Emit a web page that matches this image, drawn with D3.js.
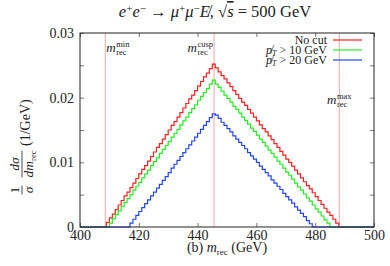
<!DOCTYPE html>
<html>
<head>
<meta charset="utf-8">
<script src="https://cdn.jsdelivr.net/npm/d3@7"></script>
<style>
  body { margin: 0; background: #fff; }
  svg { display: block; font-family: "Liberation Serif", "DejaVu Serif", serif; }
</style>
</head>
<body>
<svg id="chart" width="390" height="266"></svg>
<script>
// 1 GeV bins, first non-empty bin given by *Start
const xDomain = [400, 500];
const yTicks = [0, 0.005, 0.01, 0.015, 0.02, 0.025, 0.03];
const xTicks = [400, 420, 440, 460, 480, 500];

const noCutStart = 409;
const noCut = [
  0.0007, 0.0014, 0.0020, 0.0027, 0.0034, 0.0041, 0.0048, 0.0054, 0.0061, 0.0068,
  0.0075, 0.0082, 0.0089, 0.0095, 0.0102, 0.0109, 0.0116, 0.0123, 0.0129, 0.0136,
  0.0143, 0.0150, 0.0157, 0.0163, 0.0170, 0.0177, 0.0184, 0.0191, 0.0198, 0.0204,
  0.0211, 0.0218, 0.0225, 0.0232, 0.0238, 0.0245, 0.0252,
  0.0246, 0.0240, 0.0234, 0.0229, 0.0223, 0.0217, 0.0211, 0.0205, 0.0199, 0.0193,
  0.0188, 0.0182, 0.0176, 0.0170, 0.0164, 0.0158, 0.0152, 0.0147, 0.0141, 0.0135,
  0.0129, 0.0123, 0.0117, 0.0111, 0.0105, 0.0100, 0.0094, 0.0088, 0.0082, 0.0076,
  0.0070, 0.0064, 0.0059, 0.0053, 0.0047, 0.0041, 0.0035, 0.0029, 0.0023, 0.0018,
  0.0012, 0.0006
];

const pt10Start = 410;
const pt10 = [
  0.0006, 0.0013, 0.0019, 0.0025, 0.0032, 0.0038, 0.0044, 0.0050, 0.0057, 0.0063,
  0.0069, 0.0076, 0.0082, 0.0088, 0.0095, 0.0101, 0.0107, 0.0114, 0.0120, 0.0126,
  0.0132, 0.0139, 0.0145, 0.0151, 0.0158, 0.0164, 0.0170, 0.0177, 0.0183, 0.0189,
  0.0196, 0.0202, 0.0208, 0.0214, 0.0221, 0.0227,
  0.0221, 0.0216, 0.0210, 0.0204, 0.0199, 0.0193, 0.0187, 0.0182, 0.0176, 0.0170,
  0.0165, 0.0159, 0.0153, 0.0148, 0.0142, 0.0136, 0.0131, 0.0125, 0.0119, 0.0114,
  0.0108, 0.0102, 0.0097, 0.0091, 0.0085, 0.0080, 0.0074, 0.0068, 0.0062, 0.0057,
  0.0051, 0.0045, 0.0040, 0.0034, 0.0028, 0.0023, 0.0017, 0.0011, 0.0006
];

const pt20Start = 417;
const pt20 = [
  0.0006, 0.0012, 0.0018, 0.0024, 0.0030, 0.0036, 0.0042, 0.0048, 0.0054, 0.0060,
  0.0066, 0.0072, 0.0078, 0.0084, 0.0091, 0.0097, 0.0103, 0.0109, 0.0115, 0.0121,
  0.0127, 0.0133, 0.0139, 0.0145, 0.0151, 0.0157, 0.0163, 0.0169, 0.0175,
  0.0173, 0.0168, 0.0162, 0.0157, 0.0152, 0.0147, 0.0141, 0.0136, 0.0131, 0.0126,
  0.0121, 0.0115, 0.0110, 0.0105, 0.0100, 0.0094, 0.0089, 0.0084, 0.0079, 0.0073,
  0.0068, 0.0063, 0.0058, 0.0052, 0.0047, 0.0042, 0.0037, 0.0031, 0.0026, 0.0021,
  0.0016, 0.0010, 0.0005
];

const markerNames = ["min", "cusp", "max"];
const markerValues = [408.6, 445.6, 488.2];

const seriesNames = ["No cut", "10", "20"];
const seriesColors = ["#ff2020", "#22ee22", "#2244ff"];

const serif = "Liberation Serif";
const svg = d3.select("#chart");
const margin = { top: 33, right: 16, bottom: 39, left: 80 };
const width = 390 - margin.left - margin.right;
const height = 266 - margin.top - margin.bottom;

const x = d3.scaleLinear().domain(xDomain).range([margin.left, margin.left + width]);
const y = d3.scaleLinear().domain([0, 0.03]).range([margin.top + height, margin.top]);

// full histograms over 400..500, empty bins are zero
function fullHist(start, values) {
  const pts = [];
  for (let b = xDomain[0]; b < xDomain[1]; b++) {
    const v = values[b - start];
    pts.push({ x: b, y: v === undefined ? 0 : v });
  }
  pts.push({ x: xDomain[1], y: pts[pts.length - 1].y });
  return pts;
}
const series = [
  { name: seriesNames[0], color: seriesColors[0], pts: fullHist(noCutStart, noCut) },
  { name: seriesNames[1], color: seriesColors[1], pts: fullHist(pt10Start, pt10) },
  { name: seriesNames[2], color: seriesColors[2], pts: fullHist(pt20Start, pt20) }
];

// axes
const tickColor = "#777";
function styleAxis(g) {
  g.attr("font-family", serif).attr("font-size", 14);
  g.select(".domain").remove();
  g.selectAll("line").attr("stroke", tickColor);
  g.selectAll("text").attr("fill", "#222");
}
svg.append("g")
  .attr("transform", `translate(0,${margin.top + height})`)
  .call(d3.axisBottom(x).tickValues(xTicks).tickSizeInner(-4).tickSizeOuter(0).tickPadding(3))
  .call(styleAxis);

svg.append("g")
  .attr("transform", `translate(0,${margin.top})`)
  .call(d3.axisTop(x).tickValues(xTicks).tickSizeInner(-4).tickSizeOuter(0).tickFormat(""))
  .call(styleAxis);

svg.append("g")
  .attr("transform", `translate(${margin.left},0)`)
  .call(d3.axisLeft(y).tickValues(yTicks).tickSizeInner(-4).tickSizeOuter(0).tickPadding(6)
    .tickFormat(d => d === 0 ? "0" : (Math.round(d * 1000) % 10 === 0 ? d.toFixed(2) : "")))
  .call(styleAxis);

svg.append("g")
  .attr("transform", `translate(${margin.left + width},0)`)
  .call(d3.axisRight(y).tickValues(yTicks).tickSizeInner(-4).tickSizeOuter(0).tickFormat(""))
  .call(styleAxis);

// marker lines
svg.append("g").selectAll("line")
  .data(markerValues)
  .join("line")
  .attr("x1", d => x(d)).attr("x2", d => x(d))
  .attr("y1", margin.top).attr("y2", margin.top + height)
  .attr("stroke", "#f4a6a6").attr("stroke-width", 1);

function mLabel(xPos, yBase, sup, anchor) {
  const g = svg.append("g");
  const m = g.append("text").attr("y", yBase).attr("font-size", 13).attr("font-style", "italic").attr("fill", "#222").text("m");
  const mw = m.node().getComputedTextLength();
  const s1 = g.append("text").attr("y", yBase - 5).attr("font-size", 8.5).attr("fill", "#222").text(sup);
  const s2 = g.append("text").attr("y", yBase + 3).attr("font-size", 8.5).attr("fill", "#222").text("rec");
  const sw = Math.max(s1.node().getComputedTextLength(), s2.node().getComputedTextLength());
  const total = mw + sw + 0.5;
  let x0 = xPos;
  if (anchor === "end") x0 = xPos - total;
  if (anchor === "middle") x0 = xPos - total / 2;
  m.attr("x", x0);
  s1.attr("x", x0 + mw + 0.5);
  s2.attr("x", x0 + mw + 0.5);
}
mLabel(x(markerValues[0]) + 1, 52, markerNames[0], "start");
mLabel(x(markerValues[1]) - 1, 52, markerNames[1], "end");
mLabel(x(markerValues[2]), 104, markerNames[2], "middle");

// histograms
const line = d3.line().x(d => x(d.x)).y(d => y(d.y)).curve(d3.curveStepAfter);
svg.append("g").selectAll("path")
  .data(series)
  .join("path")
  .attr("d", d => line(d.pts))
  .attr("fill", "none")
  .attr("stroke", d => d.color)
  .attr("stroke-width", 1.2);

// frame
svg.append("rect")
  .attr("x", margin.left).attr("y", margin.top)
  .attr("width", width).attr("height", height)
  .attr("fill", "none").attr("stroke", "#222").attr("stroke-width", 1);

// legend
const legend = svg.append("g");
series.forEach((s, i) => {
  const yb = 44 + i * 10;
  const t = legend.append("text")
    .attr("x", 327).attr("y", yb)
    .attr("text-anchor", "end").attr("font-size", 12).attr("fill", "#222");
  if (i === 0) {
    t.text(s.name);
  } else {
    t.append("tspan").attr("font-style", "italic").text("p\u0338");
    t.append("tspan").attr("font-size", 8).attr("font-style", "italic").attr("dy", 2).text("T");
    t.append("tspan").attr("dy", -2).text(` > ${s.name} GeV`);
  }
  legend.append("line")
    .attr("x1", 333).attr("x2", 362)
    .attr("y1", yb - 4).attr("y2", yb - 4)
    .attr("stroke", s.color).attr("stroke-width", 1.2);
});

// title
const title = svg.append("text")
  .attr("x", 215).attr("y", 17)
  .attr("text-anchor", "middle").attr("font-size", 16.5).attr("fill", "#222");
title.append("tspan").attr("font-style", "italic").text("e");
title.append("tspan").attr("font-size", 11).attr("dy", -5).text("+");
title.append("tspan").attr("font-style", "italic").attr("dy", 5).text("e");
title.append("tspan").attr("font-size", 11).attr("dy", -5).text("\u2212");
title.append("tspan").attr("dy", 5).text(" \u2192 ");
title.append("tspan").attr("font-style", "italic").text("\u03bc");
title.append("tspan").attr("font-size", 11).attr("dy", -5).text("+");
title.append("tspan").attr("font-style", "italic").attr("dy", 5).text("\u03bc");
title.append("tspan").attr("font-size", 11).attr("dy", -5).text("\u2212");
title.append("tspan").attr("font-style", "italic").attr("dy", 5).text("E\u0338");
title.append("tspan").text(",  \u221a");
title.append("tspan").attr("font-style", "italic").style("text-decoration", "overline").text("s");
title.append("tspan").text(" = 500 GeV");

// x label
const xl = svg.append("text")
  .attr("x", 227).attr("y", 252)
  .attr("text-anchor", "middle").attr("font-size", 14).attr("fill", "#222");
xl.append("tspan").text("(b) ");
xl.append("tspan").attr("font-style", "italic").text("m");
xl.append("tspan").attr("font-size", 9).attr("dy", 3).text("rec");
xl.append("tspan").attr("dy", -3).text(" (GeV)");

// y label: (1/σ)(dσ/dm_rec) (1/GeV)
const yl = svg.append("g").attr("transform", "translate(22,140) rotate(-90)").attr("fill", "#222");
function frac(cx, num, den, barW) {
  const n = yl.append("text").attr("x", cx).attr("y", -3).attr("text-anchor", "middle").attr("font-size", 13.5);
  num(n);
  const d = yl.append("text").attr("x", cx).attr("y", 11).attr("text-anchor", "middle").attr("font-size", 13.5);
  den(d);
  yl.append("line").attr("x1", cx - barW / 2).attr("x2", cx + barW / 2)
    .attr("y1", 0).attr("y2", 0).attr("stroke", "#222").attr("stroke-width", 0.8);
}
frac(-50, t => t.text("1"), t => t.append("tspan").attr("font-style", "italic").text("\u03c3"), 9);
frac(-24, t => {
  t.append("tspan").attr("font-style", "italic").text("d\u03c3");
}, t => {
  t.append("tspan").attr("font-style", "italic").text("dm");
  t.append("tspan").attr("font-size", 8.5).attr("dy", 3).text("rec");
}, 27);
yl.append("text").attr("x", -6).attr("y", 8).attr("font-size", 14).text("(1/GeV)");
</script>
</body>
</html>
